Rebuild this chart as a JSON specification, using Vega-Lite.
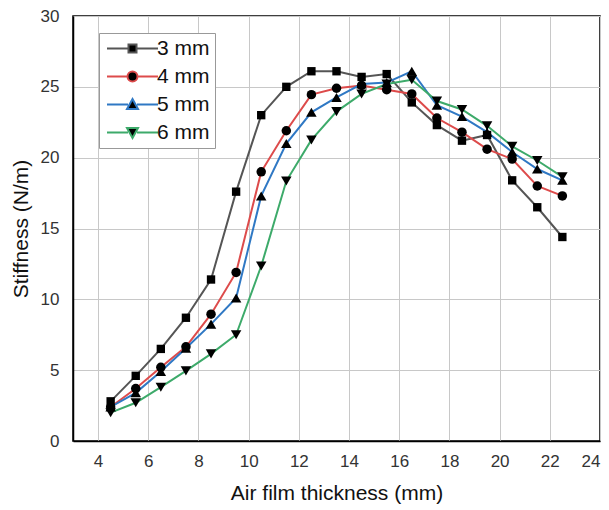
{
  "$schema": "https://vega.github.io/schema/vega-lite/v6.json",
  "autosize": {"type": "none"},
  "padding": {"left": 73, "top": 16, "right": 9, "bottom": 69},
  "width": 527,
  "height": 425,
  "background": "white",
  "config": {
    "font": "Liberation Sans",
    "view": {"stroke": "#000000", "strokeWidth": 1.5},
    "axis": {
      "gridColor": "#c8c8c8",
      "gridWidth": 1,
      "domainColor": "#000000",
      "domainWidth": 1.5,
      "ticks": false,
      "labelFont": "Liberation Sans",
      "labelFontSize": 17,
      "labelColor": "#333333",
      "titleFont": "Liberation Sans",
      "titleFontSize": 21,
      "titleFontWeight": "normal",
      "titleColor": "#111111"
    }
  },
  "data": {
    "values": [
      {"series": "3 mm", "x": 4.5, "y": 2.8},
      {"series": "3 mm", "x": 5.5, "y": 4.6},
      {"series": "3 mm", "x": 6.5, "y": 6.5},
      {"series": "3 mm", "x": 7.5, "y": 8.7},
      {"series": "3 mm", "x": 8.5, "y": 11.4},
      {"series": "3 mm", "x": 9.5, "y": 17.6},
      {"series": "3 mm", "x": 10.5, "y": 23.0},
      {"series": "3 mm", "x": 11.5, "y": 25.0},
      {"series": "3 mm", "x": 12.5, "y": 26.1},
      {"series": "3 mm", "x": 13.5, "y": 26.1},
      {"series": "3 mm", "x": 14.5, "y": 25.7},
      {"series": "3 mm", "x": 15.5, "y": 25.9},
      {"series": "3 mm", "x": 16.5, "y": 23.9},
      {"series": "3 mm", "x": 17.5, "y": 22.3},
      {"series": "3 mm", "x": 18.5, "y": 21.2},
      {"series": "3 mm", "x": 19.5, "y": 21.6},
      {"series": "3 mm", "x": 20.5, "y": 18.4},
      {"series": "3 mm", "x": 21.5, "y": 16.5},
      {"series": "3 mm", "x": 22.5, "y": 14.4},
      {"series": "4 mm", "x": 4.5, "y": 2.4},
      {"series": "4 mm", "x": 5.5, "y": 3.7},
      {"series": "4 mm", "x": 6.5, "y": 5.2},
      {"series": "4 mm", "x": 7.5, "y": 6.65},
      {"series": "4 mm", "x": 8.5, "y": 8.95},
      {"series": "4 mm", "x": 9.5, "y": 11.9},
      {"series": "4 mm", "x": 10.5, "y": 19.0},
      {"series": "4 mm", "x": 11.5, "y": 21.9},
      {"series": "4 mm", "x": 12.5, "y": 24.45},
      {"series": "4 mm", "x": 13.5, "y": 24.9},
      {"series": "4 mm", "x": 14.5, "y": 25.1},
      {"series": "4 mm", "x": 15.5, "y": 24.8},
      {"series": "4 mm", "x": 16.5, "y": 24.5},
      {"series": "4 mm", "x": 17.5, "y": 22.8},
      {"series": "4 mm", "x": 18.5, "y": 21.8},
      {"series": "4 mm", "x": 19.5, "y": 20.6},
      {"series": "4 mm", "x": 20.5, "y": 19.9},
      {"series": "4 mm", "x": 21.5, "y": 18.0},
      {"series": "4 mm", "x": 22.5, "y": 17.3},
      {"series": "5 mm", "x": 4.5, "y": 2.4},
      {"series": "5 mm", "x": 5.5, "y": 3.4},
      {"series": "5 mm", "x": 6.5, "y": 4.9},
      {"series": "5 mm", "x": 7.5, "y": 6.55},
      {"series": "5 mm", "x": 8.5, "y": 8.25},
      {"series": "5 mm", "x": 9.5, "y": 10.1},
      {"series": "5 mm", "x": 10.5, "y": 17.3},
      {"series": "5 mm", "x": 11.5, "y": 21.0},
      {"series": "5 mm", "x": 12.5, "y": 23.2},
      {"series": "5 mm", "x": 13.5, "y": 24.25},
      {"series": "5 mm", "x": 14.5, "y": 25.2},
      {"series": "5 mm", "x": 15.5, "y": 25.3},
      {"series": "5 mm", "x": 16.5, "y": 26.1},
      {"series": "5 mm", "x": 17.5, "y": 23.7},
      {"series": "5 mm", "x": 18.5, "y": 22.9},
      {"series": "5 mm", "x": 19.5, "y": 21.8},
      {"series": "5 mm", "x": 20.5, "y": 20.4},
      {"series": "5 mm", "x": 21.5, "y": 19.2},
      {"series": "5 mm", "x": 22.5, "y": 18.4},
      {"series": "6 mm", "x": 4.5, "y": 2.0},
      {"series": "6 mm", "x": 5.5, "y": 2.7},
      {"series": "6 mm", "x": 6.5, "y": 3.8},
      {"series": "6 mm", "x": 7.5, "y": 4.95},
      {"series": "6 mm", "x": 8.5, "y": 6.15},
      {"series": "6 mm", "x": 9.5, "y": 7.5},
      {"series": "6 mm", "x": 10.5, "y": 12.35},
      {"series": "6 mm", "x": 11.5, "y": 18.35},
      {"series": "6 mm", "x": 12.5, "y": 21.25},
      {"series": "6 mm", "x": 13.5, "y": 23.25},
      {"series": "6 mm", "x": 14.5, "y": 24.5},
      {"series": "6 mm", "x": 15.5, "y": 25.2},
      {"series": "6 mm", "x": 16.5, "y": 25.5},
      {"series": "6 mm", "x": 17.5, "y": 24.0},
      {"series": "6 mm", "x": 18.5, "y": 23.4},
      {"series": "6 mm", "x": 19.5, "y": 22.25},
      {"series": "6 mm", "x": 20.5, "y": 20.8},
      {"series": "6 mm", "x": 21.5, "y": 19.8},
      {"series": "6 mm", "x": 22.5, "y": 18.65}
    ]
  },
  "encoding": {
    "x": {
      "field": "x", "type": "quantitative",
      "scale": {"domain": [3, 24], "nice": false, "zero": false},
      "axis": {
        "title": "Air film thickness (mm)",
        "values": [4, 6, 8, 10, 12, 14, 16, 18, 20, 22, 24],
        "labelPadding": 12,
        "titlePadding": 13
      }
    },
    "y": {
      "field": "y", "type": "quantitative",
      "scale": {"domain": [0, 30], "nice": false},
      "axis": {
        "title": "Stiffness (N/m)",
        "values": [0, 5, 10, 15, 20, 25, 30],
        "labelPadding": 14,
        "titlePadding": 9
      }
    }
  },
  "layer": [
    {
      "mark": {"type": "line", "strokeWidth": 2},
      "encoding": {
        "color": {
          "field": "series", "type": "nominal",
          "scale": {
            "domain": ["3 mm", "4 mm", "5 mm", "6 mm"],
            "range": ["#555555", "#dd4b4b", "#2f78c4", "#3daa6a"]
          },
          "legend": {
            "title": null,
            "orient": "none",
            "legendX": 26,
            "legendY": 17,
            "padding": 5,
            "strokeColor": "#999999",
            "fillColor": "#ffffff",
            "symbolSize": 100,
            "symbolStrokeWidth": 2,
            "symbolOffset": 18,
            "labelOffset": 14,
            "labelFont": "Liberation Sans",
            "labelFontSize": 21,
            "labelColor": "#111111",
            "rowPadding": 6,
            "labelLimit": 200,
            "encode": {
              "symbols": {
                "update": {
                  "shape": {"signal": "datum.value === '3 mm' ? 'M-5.1,0H-0.8M0.8,0H5.1M-0.8,-0.8H0.8V0.8H-0.8Z' : datum.value === '4 mm' ? 'M-5.1,0H-1M1,0H5.1M-1,0A1,1,0,1,1,1,0A1,1,0,1,1,-1,0Z' : datum.value === '5 mm' ? 'M-5.1,0H-0.9M0.9,0H5.1M0,-1.1L1.1,0.9L-1.1,0.9Z' : 'M-5.1,0H-0.9M0.9,0H5.1M0,1.1L1.1,-0.9L-1.1,-0.9Z'"},
                  "fill": {"value": "#000000"},
                  "fillOpacity": {"value": 1},
                  "strokeOpacity": {"value": 1}
                }
              }
            }
          }
        }
      }
    },
    {
      "transform": [{"filter": "datum.series === '3 mm'"}],
      "mark": {"type": "point", "shape": "square", "size": 70, "filled": true, "opacity": 1, "color": "#000000"}
    },
    {
      "transform": [{"filter": "datum.series === '4 mm'"}],
      "mark": {"type": "point", "shape": "circle", "size": 90, "filled": true, "opacity": 1, "color": "#000000"}
    },
    {
      "transform": [{"filter": "datum.series === '5 mm'"}],
      "mark": {"type": "point", "shape": "triangle-up", "size": 110, "filled": true, "opacity": 1, "color": "#000000"}
    },
    {
      "transform": [{"filter": "datum.series === '6 mm'"}],
      "mark": {"type": "point", "shape": "triangle-down", "size": 110, "filled": true, "opacity": 1, "color": "#000000"}
    }
  ]
}
